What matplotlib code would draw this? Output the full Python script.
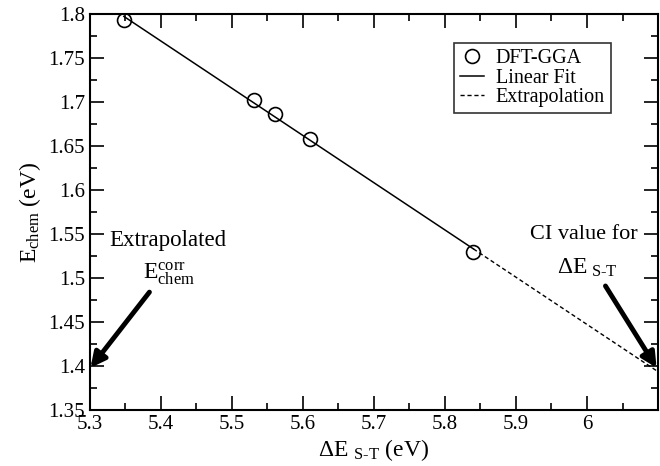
import numpy as np
import matplotlib
matplotlib.use("Agg")
import matplotlib.pyplot as plt

plt.rcParams['font.family'] = ['Liberation Serif', 'DejaVu Serif']
plt.rcParams['mathtext.fontset'] = 'custom'
plt.rcParams['mathtext.rm'] = 'Liberation Serif'
plt.rcParams['mathtext.it'] = 'Liberation Serif'

# DFT-GGA points
delta_est = [5.348, 5.531, 5.561, 5.610, 5.840]
e_chem = [1.793, 1.702, 1.686, 1.658, 1.530]

# extrapolation target (CI value)
x_ci = 6.1

slope, icpt = np.polyfit(delta_est, e_chem, 1)

fig = plt.figure(figsize=(6.6, 4.66), dpi=100)
ax = fig.add_axes([0.136, 0.12, 0.861, 0.85])

xf = np.array([delta_est[0], delta_est[-1]])
xe = np.array([delta_est[-1], x_ci])
ax.plot(delta_est, e_chem, 'o', mfc='none', mec='black', ms=10, mew=1.2,
        label='DFT-GGA', zorder=3)
ax.plot(xf, slope * xf + icpt, '-', color='black', lw=1.1, label='Linear Fit')
ax.plot(xe, slope * xe + icpt, '--', color='black', lw=1.0,
        dashes=(3, 2), label='Extrapolation')

ax.set_xlim(5.3, 6.1)
ax.set_ylim(1.35, 1.8)
ax.set_xticks([5.3, 5.4, 5.5, 5.6, 5.7, 5.8, 5.9, 6.0])
ax.set_xticklabels(['5.3', '5.4', '5.5', '5.6', '5.7', '5.8', '5.9', '6'])
ax.set_xticks(np.arange(5.35, 6.1, 0.1), minor=True)
ax.set_yticks([1.35, 1.4, 1.45, 1.5, 1.55, 1.6, 1.65, 1.7, 1.75, 1.8])
ax.set_yticklabels(['1.35', '1.4', '1.45', '1.5', '1.55', '1.6', '1.65',
                    '1.7', '1.75', '1.8'])
ax.set_yticks(np.arange(1.375, 1.8, 0.05), minor=True)
ax.tick_params(which='both', direction='in', top=True, right=True,
               labelsize=15, width=1.2)
ax.tick_params(which='major', length=10)
ax.tick_params(which='minor', length=5)
for s in ax.spines.values():
    s.set_linewidth(1.5)

ax.set_xlabel(r'$\Delta$E $_{\rm S\text{-}T}$ (eV)', fontsize=17, labelpad=2)
ax.set_ylabel(r'E$_{\rm chem}$ (eV)', fontsize=17, labelpad=4)

leg = ax.legend(loc='upper right', bbox_to_anchor=(0.935, 0.952), fontsize=14.5,
                frameon=True, fancybox=False, edgecolor='black',
                handlelength=1.2, handletextpad=0.6, borderpad=0.3,
                labelspacing=0.02)
leg.get_frame().set_linewidth(1.2)

ax.text(5.328, 1.543, 'Extrapolated', fontsize=16.5, va='center', ha='left')
ax.text(5.412, 1.505, r'E$^{\rm corr}_{\rm chem}$', fontsize=17,
        va='center', ha='center')
ax.text(5.995, 1.549, 'CI value for', fontsize=16, va='center', ha='center')
ax.text(6.0, 1.512, r'$\Delta$E$_{\rm\ S\text{-}T}$', fontsize=17,
        va='center', ha='center')

ax.annotate('', xy=(5.301, 1.398), xytext=(5.384, 1.484),
            arrowprops=dict(arrowstyle='-|>', color='black', lw=3.5,
                            mutation_scale=22, shrinkA=0, shrinkB=0))
ax.annotate('', xy=(6.098, 1.398), xytext=(6.026, 1.491),
            arrowprops=dict(arrowstyle='-|>', color='black', lw=3.5,
                            mutation_scale=22, shrinkA=0, shrinkB=0))

fig.savefig('out.png', dpi=100)
